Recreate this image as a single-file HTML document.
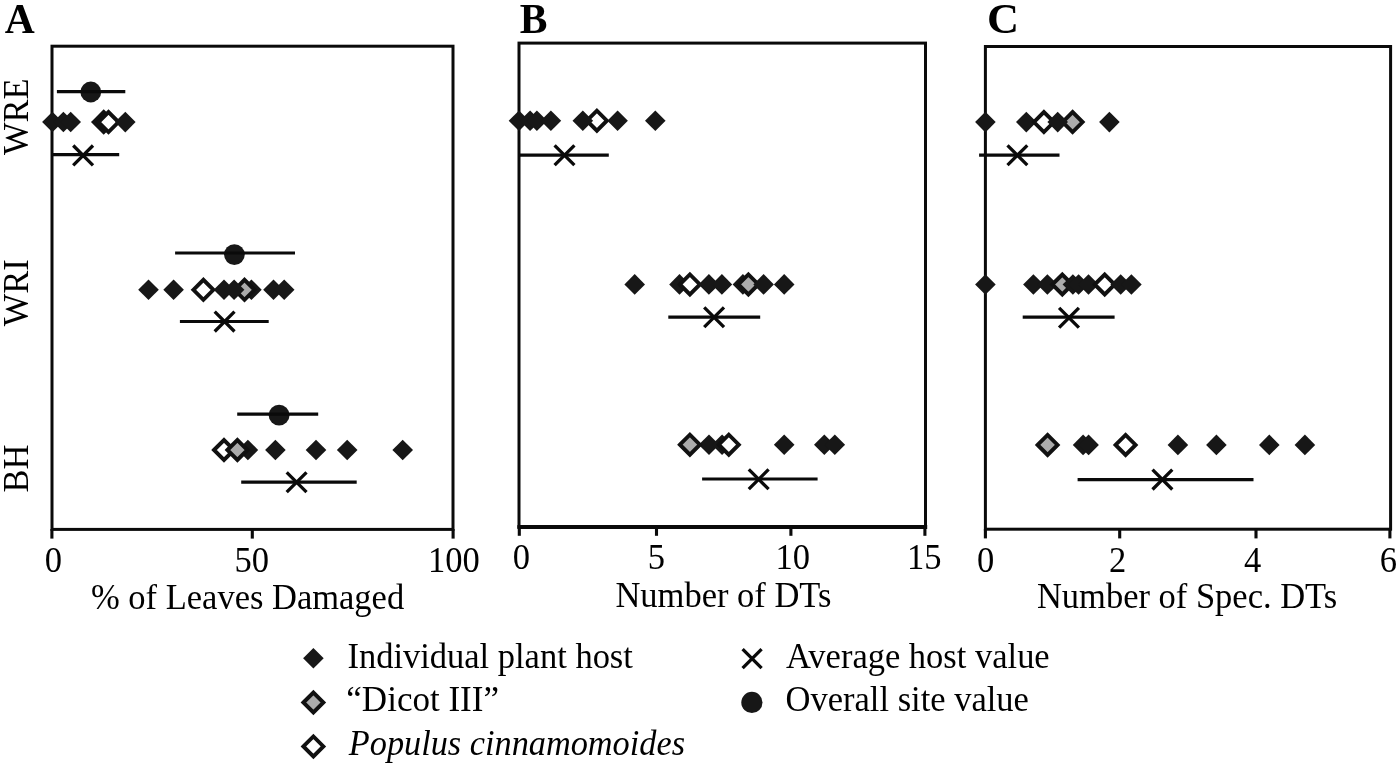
<!DOCTYPE html>
<html><head><meta charset="utf-8"><style>
html,body{margin:0;padding:0;background:#fff;}
body{width:1400px;height:768px;overflow:hidden;}
svg{display:block;}
text{font-family:"Liberation Serif",serif;fill:#000;}
svg{will-change:transform;}
</style></head><body>
<svg width="1400" height="768" viewBox="0 0 1400 768">
<rect x="52" y="46.2" width="401" height="483.2" fill="none" stroke="#0a0a0a" stroke-width="3.0"/>
<rect x="519" y="43.1" width="406.5" height="483.69999999999993" fill="none" stroke="#0a0a0a" stroke-width="3.0"/>
<line x1="517.4" y1="527" x2="927.2" y2="527" stroke="#0a0a0a" stroke-width="3.8"/>
<rect x="985.4" y="46.5" width="405.19999999999993" height="482.70000000000005" fill="none" stroke="#0a0a0a" stroke-width="3.0"/>
<line x1="51.9" y1="529" x2="51.9" y2="538.6" stroke="#0a0a0a" stroke-width="3.1"/>
<line x1="252.3" y1="529" x2="252.3" y2="538.6" stroke="#0a0a0a" stroke-width="3.1"/>
<line x1="453.1" y1="529" x2="453.1" y2="538.6" stroke="#0a0a0a" stroke-width="3.1"/>
<line x1="519.3" y1="526" x2="519.3" y2="535.8" stroke="#0a0a0a" stroke-width="3.1"/>
<line x1="656.5" y1="526" x2="656.5" y2="535.8" stroke="#0a0a0a" stroke-width="3.1"/>
<line x1="790.9" y1="526" x2="790.9" y2="535.8" stroke="#0a0a0a" stroke-width="3.1"/>
<line x1="924.9" y1="526" x2="924.9" y2="535.8" stroke="#0a0a0a" stroke-width="3.1"/>
<line x1="985.4" y1="529" x2="985.4" y2="538.4" stroke="#0a0a0a" stroke-width="3.1"/>
<line x1="1119.7" y1="529" x2="1119.7" y2="538.4" stroke="#0a0a0a" stroke-width="3.1"/>
<line x1="1256" y1="529" x2="1256" y2="538.4" stroke="#0a0a0a" stroke-width="3.1"/>
<line x1="1389.9" y1="529" x2="1389.9" y2="538.4" stroke="#0a0a0a" stroke-width="3.1"/>
<text transform="translate(4.7,32.8)" font-size="41.5" font-weight="bold" font-style="normal" text-anchor="start" >A</text>
<text transform="translate(519.7,33.2)" font-size="41.5" font-weight="bold" font-style="normal" text-anchor="start" >B</text>
<text transform="translate(987.0,33.1) scale(1.07,1.02)" font-size="41.5" font-weight="bold" font-style="normal" text-anchor="start" >C</text>
<text transform="translate(53.3,571.8) scale(1.0,1.04)" font-size="34.5" font-weight="normal" font-style="normal" text-anchor="middle" >0</text>
<text transform="translate(251.8,571.8) scale(1.0,1.04)" font-size="34.5" font-weight="normal" font-style="normal" text-anchor="middle" >50</text>
<text transform="translate(453.9,571.8) scale(1.0,1.04)" font-size="34.5" font-weight="normal" font-style="normal" text-anchor="middle" >100</text>
<text transform="translate(521.4,569.3) scale(1.0,1.04)" font-size="34.5" font-weight="normal" font-style="normal" text-anchor="middle" >0</text>
<text transform="translate(656.4,569.3) scale(1.0,1.04)" font-size="34.5" font-weight="normal" font-style="normal" text-anchor="middle" >5</text>
<text transform="translate(792.8,569.3) scale(1.0,1.04)" font-size="34.5" font-weight="normal" font-style="normal" text-anchor="middle" >10</text>
<text transform="translate(924.3,569.3) scale(1.0,1.04)" font-size="34.5" font-weight="normal" font-style="normal" text-anchor="middle" >15</text>
<text transform="translate(985.5,572) scale(1.0,1.04)" font-size="34.5" font-weight="normal" font-style="normal" text-anchor="middle" >0</text>
<text transform="translate(1117.6,572) scale(1.0,1.04)" font-size="34.5" font-weight="normal" font-style="normal" text-anchor="middle" >2</text>
<text transform="translate(1252.7,572) scale(1.0,1.04)" font-size="34.5" font-weight="normal" font-style="normal" text-anchor="middle" >4</text>
<text transform="translate(1388.4,572) scale(1.0,1.04)" font-size="34.5" font-weight="normal" font-style="normal" text-anchor="middle" >6</text>
<text transform="translate(91.0,608.8) scale(1.0,1.04)" font-size="34.5" font-weight="normal" font-style="normal" text-anchor="start" >% of Leaves Damaged</text>
<text transform="translate(615.4,607.0) scale(1.0,1.04)" font-size="34.5" font-weight="normal" font-style="normal" text-anchor="start" >Number of DTs</text>
<text transform="translate(1036.9,608.4) scale(1.0,1.04)" font-size="34.5" font-weight="normal" font-style="normal" text-anchor="start" >Number of Spec. DTs</text>
<text transform="translate(27.7,116.8) rotate(-90) scale(1.0,1.04)" font-size="34.5" font-weight="normal" font-style="normal" text-anchor="middle" >WRE</text>
<text transform="translate(27.7,292.8) rotate(-90) scale(1.0,1.04)" font-size="34.5" font-weight="normal" font-style="normal" text-anchor="middle" >WRI</text>
<text transform="translate(27.7,468.5) rotate(-90) scale(1.0,1.04)" font-size="34.5" font-weight="normal" font-style="normal" text-anchor="middle" >BH</text>
<circle cx="90.8" cy="92" r="10.4" fill="#171717"/>
<line x1="56.9" y1="91.6" x2="125.3" y2="91.6" stroke="#0a0a0a" stroke-width="3.2"/>
<polygon points="42.099999999999994,122 52.4,111.7 62.7,122 52.4,132.3" fill="#171717"/>
<polygon points="53.099999999999994,122 63.4,111.7 73.7,122 63.4,132.3" fill="#171717"/>
<polygon points="60.400000000000006,122 70.7,111.7 81.0,122 70.7,132.3" fill="#171717"/>
<polygon points="93.7,122.1 103.7,112.1 113.7,122.1 103.7,132.1" fill="#000" stroke="#111" stroke-width="3.9" stroke-linejoin="miter"/>
<polygon points="98.5,122.1 108.5,112.1 118.5,122.1 108.5,132.1" fill="#fff" stroke="#111" stroke-width="3.9" stroke-linejoin="miter"/>
<polygon points="115.0,122.1 125.3,111.8 135.6,122.1 125.3,132.4" fill="#171717"/>
<line x1="52" y1="154.7" x2="119.2" y2="154.7" stroke="#0a0a0a" stroke-width="3.2"/>
<path d="M73.19999999999999,145.5L93.0,165.3M73.19999999999999,165.3L93.0,145.5" stroke="#0a0a0a" stroke-width="3.3" fill="none"/>
<circle cx="234.4" cy="254.6" r="10.4" fill="#171717"/>
<line x1="175.1" y1="253" x2="295" y2="253" stroke="#0a0a0a" stroke-width="3.2"/>
<polygon points="138.2,289.8 148.5,279.5 158.8,289.8 148.5,300.1" fill="#171717"/>
<polygon points="163.29999999999998,289.8 173.6,279.5 183.9,289.8 173.6,300.1" fill="#171717"/>
<polygon points="193.4,289.8 203.4,279.8 213.4,289.8 203.4,299.8" fill="#fff" stroke="#111" stroke-width="3.9" stroke-linejoin="miter"/>
<polygon points="241.1,289.8 251.4,279.5 261.7,289.8 251.4,300.1" fill="#171717"/>
<polygon points="234.5,289.8 244.5,279.8 254.5,289.8 244.5,299.8" fill="#ababab" stroke="#111" stroke-width="3.9" stroke-linejoin="miter"/>
<polygon points="213.7,289.8 224,279.5 234.3,289.8 224,300.1" fill="#171717"/>
<polygon points="223.79999999999998,289.8 234.1,279.5 244.4,289.8 234.1,300.1" fill="#171717"/>
<polygon points="263.2,289.8 273.5,279.5 283.8,289.8 273.5,300.1" fill="#171717"/>
<polygon points="273.9,289.8 284.2,279.5 294.5,289.8 284.2,300.1" fill="#171717"/>
<line x1="179.9" y1="321.5" x2="268.7" y2="321.5" stroke="#0a0a0a" stroke-width="3.2"/>
<path d="M214.7,311.70000000000005L234.5,331.5M214.7,331.5L234.5,311.70000000000005" stroke="#0a0a0a" stroke-width="3.3" fill="none"/>
<circle cx="279.1" cy="415.2" r="10.4" fill="#171717"/>
<line x1="237.2" y1="414.2" x2="318.2" y2="414.2" stroke="#0a0a0a" stroke-width="3.2"/>
<polygon points="214.0,450 224.0,440.0 234.0,450 224.0,460.0" fill="#fff" stroke="#111" stroke-width="3.9" stroke-linejoin="miter"/>
<polygon points="237.6,450 247.9,439.7 258.2,450 247.9,460.3" fill="#171717"/>
<polygon points="227.4,450 237.4,440.0 247.4,450 237.4,460.0" fill="#ababab" stroke="#111" stroke-width="3.9" stroke-linejoin="miter"/>
<polygon points="265.09999999999997,450 275.4,439.7 285.7,450 275.4,460.3" fill="#171717"/>
<polygon points="305.7,450 316,439.7 326.3,450 316,460.3" fill="#171717"/>
<polygon points="336.9,450 347.2,439.7 357.5,450 347.2,460.3" fill="#171717"/>
<polygon points="392.4,450 402.7,439.7 413.0,450 402.7,460.3" fill="#171717"/>
<line x1="241.2" y1="482.2" x2="356.7" y2="482.2" stroke="#0a0a0a" stroke-width="3.2"/>
<path d="M286.70000000000005,472.3L306.5,492.09999999999997M286.70000000000005,492.09999999999997L306.5,472.3" stroke="#0a0a0a" stroke-width="3.3" fill="none"/>
<polygon points="508.7,120.7 519.0,110.4 529.3,120.7 519.0,131.0" fill="#171717"/>
<polygon points="519.8000000000001,120.7 530.1,110.4 540.4,120.7 530.1,131.0" fill="#171717"/>
<polygon points="526.6,120.7 536.9,110.4 547.1999999999999,120.7 536.9,131.0" fill="#171717"/>
<polygon points="540.6,120.7 550.9,110.4 561.1999999999999,120.7 550.9,131.0" fill="#171717"/>
<polygon points="586.9,120.7 596.9,110.7 606.9,120.7 596.9,130.7" fill="#fff" stroke="#111" stroke-width="3.9" stroke-linejoin="miter"/>
<polygon points="572.5,120.7 582.8,110.4 593.0999999999999,120.7 582.8,131.0" fill="#171717"/>
<polygon points="607.3000000000001,120.7 617.6,110.4 627.9,120.7 617.6,131.0" fill="#171717"/>
<polygon points="645.0,120.7 655.3,110.4 665.5999999999999,120.7 655.3,131.0" fill="#171717"/>
<line x1="519" y1="155.1" x2="608.8" y2="155.1" stroke="#0a0a0a" stroke-width="3.2"/>
<path d="M554.6,145.4L574.4,165.20000000000002M554.6,165.20000000000002L574.4,145.4" stroke="#0a0a0a" stroke-width="3.3" fill="none"/>
<polygon points="624.4000000000001,284.4 634.7,274.09999999999997 645.0,284.4 634.7,294.7" fill="#171717"/>
<polygon points="669.2,284.4 679.5,274.09999999999997 689.8,284.4 679.5,294.7" fill="#171717"/>
<polygon points="679.9,284.4 689.9,274.4 699.9,284.4 689.9,294.4" fill="#fff" stroke="#111" stroke-width="3.9" stroke-linejoin="miter"/>
<polygon points="698.6,284.4 708.9,274.09999999999997 719.1999999999999,284.4 708.9,294.7" fill="#171717"/>
<polygon points="711.6,284.4 721.9,274.09999999999997 732.1999999999999,284.4 721.9,294.7" fill="#171717"/>
<polygon points="732.6,284.4 742.9,274.09999999999997 753.1999999999999,284.4 742.9,294.7" fill="#171717"/>
<polygon points="738.4,284.4 748.4,274.4 758.4,284.4 748.4,294.4" fill="#ababab" stroke="#111" stroke-width="3.9" stroke-linejoin="miter"/>
<polygon points="753.3000000000001,284.4 763.6,274.09999999999997 773.9,284.4 763.6,294.7" fill="#171717"/>
<polygon points="773.9000000000001,284.4 784.2,274.09999999999997 794.5,284.4 784.2,294.7" fill="#171717"/>
<line x1="668.3" y1="317.1" x2="760.2" y2="317.1" stroke="#0a0a0a" stroke-width="3.2"/>
<path d="M704.2,307.40000000000003L724.0,327.2M704.2,327.2L724.0,307.40000000000003" stroke="#0a0a0a" stroke-width="3.3" fill="none"/>
<polygon points="698.7,444.7 709,434.4 719.3,444.7 709,455.0" fill="#171717"/>
<polygon points="679.9,444.7 689.9,434.7 699.9,444.7 689.9,454.7" fill="#ababab" stroke="#111" stroke-width="3.9" stroke-linejoin="miter"/>
<polygon points="711.8000000000001,444.7 722.1,434.4 732.4,444.7 722.1,455.0" fill="#171717"/>
<polygon points="718.8,444.7 728.8,434.7 738.8,444.7 728.8,454.7" fill="#fff" stroke="#111" stroke-width="3.9" stroke-linejoin="miter"/>
<polygon points="773.9000000000001,444.7 784.2,434.4 794.5,444.7 784.2,455.0" fill="#171717"/>
<polygon points="814.0,444.7 824.3,434.4 834.5999999999999,444.7 824.3,455.0" fill="#171717"/>
<polygon points="824.5,444.7 834.8,434.4 845.0999999999999,444.7 834.8,455.0" fill="#171717"/>
<line x1="702.1" y1="479.0" x2="817.6" y2="479.0" stroke="#0a0a0a" stroke-width="3.2"/>
<path d="M748.8000000000001,469.40000000000003L768.6,489.2M748.8000000000001,489.2L768.6,469.40000000000003" stroke="#0a0a0a" stroke-width="3.3" fill="none"/>
<polygon points="975.1,122.1 985.4,111.8 995.6999999999999,122.1 985.4,132.4" fill="#171717"/>
<polygon points="1016.0,122.1 1026.3,111.8 1036.6,122.1 1026.3,132.4" fill="#171717"/>
<polygon points="1033.9,122.1 1043.9,112.1 1053.9,122.1 1043.9,132.1" fill="#fff" stroke="#111" stroke-width="3.9" stroke-linejoin="miter"/>
<polygon points="1062.6,122.1 1072.6,112.1 1082.6,122.1 1072.6,132.1" fill="#ababab" stroke="#111" stroke-width="3.9" stroke-linejoin="miter"/>
<polygon points="1047.4,122.1 1057.7,111.8 1068.0,122.1 1057.7,132.4" fill="#171717"/>
<polygon points="1099.1000000000001,122.1 1109.4,111.8 1119.7,122.1 1109.4,132.4" fill="#171717"/>
<line x1="979.1" y1="155.1" x2="1059.5" y2="155.1" stroke="#0a0a0a" stroke-width="3.2"/>
<path d="M1007.5,145.4L1027.3,165.20000000000002M1007.5,165.20000000000002L1027.3,145.4" stroke="#0a0a0a" stroke-width="3.3" fill="none"/>
<polygon points="975.1,284.5 985.4,274.2 995.6999999999999,284.5 985.4,294.8" fill="#171717"/>
<polygon points="1023.1000000000001,284.5 1033.4,274.2 1043.7,284.5 1033.4,294.8" fill="#171717"/>
<polygon points="1037.1000000000001,284.5 1047.4,274.2 1057.7,284.5 1047.4,294.8" fill="#171717"/>
<polygon points="1052.3,284.5 1062.3,274.5 1072.3,284.5 1062.3,294.5" fill="#ababab" stroke="#111" stroke-width="3.9" stroke-linejoin="miter"/>
<polygon points="1062.6000000000001,284.5 1072.9,274.2 1083.2,284.5 1072.9,294.8" fill="#171717"/>
<polygon points="1068.3,284.5 1078.6,274.2 1088.8999999999999,284.5 1078.6,294.8" fill="#171717"/>
<polygon points="1078.2,284.5 1088.5,274.2 1098.8,284.5 1088.5,294.8" fill="#171717"/>
<polygon points="1094.7,284.5 1104.7,274.5 1114.7,284.5 1104.7,294.5" fill="#fff" stroke="#111" stroke-width="3.9" stroke-linejoin="miter"/>
<polygon points="1110.4,284.5 1120.7,274.2 1131.0,284.5 1120.7,294.8" fill="#171717"/>
<polygon points="1121.1000000000001,284.5 1131.4,274.2 1141.7,284.5 1131.4,294.8" fill="#171717"/>
<line x1="1022.7" y1="317.2" x2="1114.6" y2="317.2" stroke="#0a0a0a" stroke-width="3.2"/>
<path d="M1059.1,307.90000000000003L1078.9,327.7M1059.1,327.7L1078.9,307.90000000000003" stroke="#0a0a0a" stroke-width="3.3" fill="none"/>
<polygon points="1037.6,444.9 1047.6,434.9 1057.6,444.9 1047.6,454.9" fill="#ababab" stroke="#111" stroke-width="3.9" stroke-linejoin="miter"/>
<polygon points="1072.8,444.9 1083.1,434.59999999999997 1093.3999999999999,444.9 1083.1,455.2" fill="#171717"/>
<polygon points="1078.3,444.9 1088.6,434.59999999999997 1098.8999999999999,444.9 1088.6,455.2" fill="#171717"/>
<polygon points="1115.6,444.9 1125.6,434.9 1135.6,444.9 1125.6,454.9" fill="#fff" stroke="#111" stroke-width="3.9" stroke-linejoin="miter"/>
<polygon points="1167.6000000000001,444.9 1177.9,434.59999999999997 1188.2,444.9 1177.9,455.2" fill="#171717"/>
<polygon points="1206.1000000000001,444.9 1216.4,434.59999999999997 1226.7,444.9 1216.4,455.2" fill="#171717"/>
<polygon points="1259.0,444.9 1269.3,434.59999999999997 1279.6,444.9 1269.3,455.2" fill="#171717"/>
<polygon points="1294.6000000000001,444.9 1304.9,434.59999999999997 1315.2,444.9 1304.9,455.2" fill="#171717"/>
<line x1="1077.6" y1="479.6" x2="1253.5" y2="479.6" stroke="#0a0a0a" stroke-width="3.2"/>
<path d="M1152.5,469.70000000000005L1172.3000000000002,489.5M1152.5,489.5L1172.3000000000002,469.70000000000005" stroke="#0a0a0a" stroke-width="3.3" fill="none"/>
<polygon points="303.09999999999997,658.3 313.4,648.0 323.7,658.3 313.4,668.5999999999999" fill="#171717"/>
<polygon points="303.4,702.5 313.4,692.5 323.4,702.5 313.4,712.5" fill="#ababab" stroke="#111" stroke-width="3.9" stroke-linejoin="miter"/>
<polygon points="303.4,746.4 313.4,736.4 323.4,746.4 313.4,756.4" fill="#fff" stroke="#111" stroke-width="3.9" stroke-linejoin="miter"/>
<text transform="translate(347.4,667.5) scale(1.0,1.04)" font-size="34.5" font-weight="normal" font-style="normal" text-anchor="start" >Individual plant host</text>
<text transform="translate(346.3,711.4) scale(1.0,1.04)" font-size="34.5" font-weight="normal" font-style="normal" text-anchor="start" textLength="152.7" lengthAdjust="spacingAndGlyphs" >“Dicot III”</text>
<text transform="translate(348.8,755.3) scale(1.0,1.04)" font-size="34.5" font-weight="normal" font-style="italic" text-anchor="start" textLength="336.2" lengthAdjust="spacingAndGlyphs" >Populus cinnamomoides</text>
<path d="M742.6,649.1L761.6,668.1M742.6,668.1L761.6,649.1" stroke="#0a0a0a" stroke-width="3.3" fill="none"/>
<circle cx="751.9" cy="702.4" r="10.6" fill="#171717"/>
<text transform="translate(786.0,668) scale(1.0,1.04)" font-size="34.5" font-weight="normal" font-style="normal" text-anchor="start" >Average host value</text>
<text transform="translate(785.6,711.3) scale(1.0,1.04)" font-size="34.5" font-weight="normal" font-style="normal" text-anchor="start" >Overall site value</text>
</svg>
</body></html>
